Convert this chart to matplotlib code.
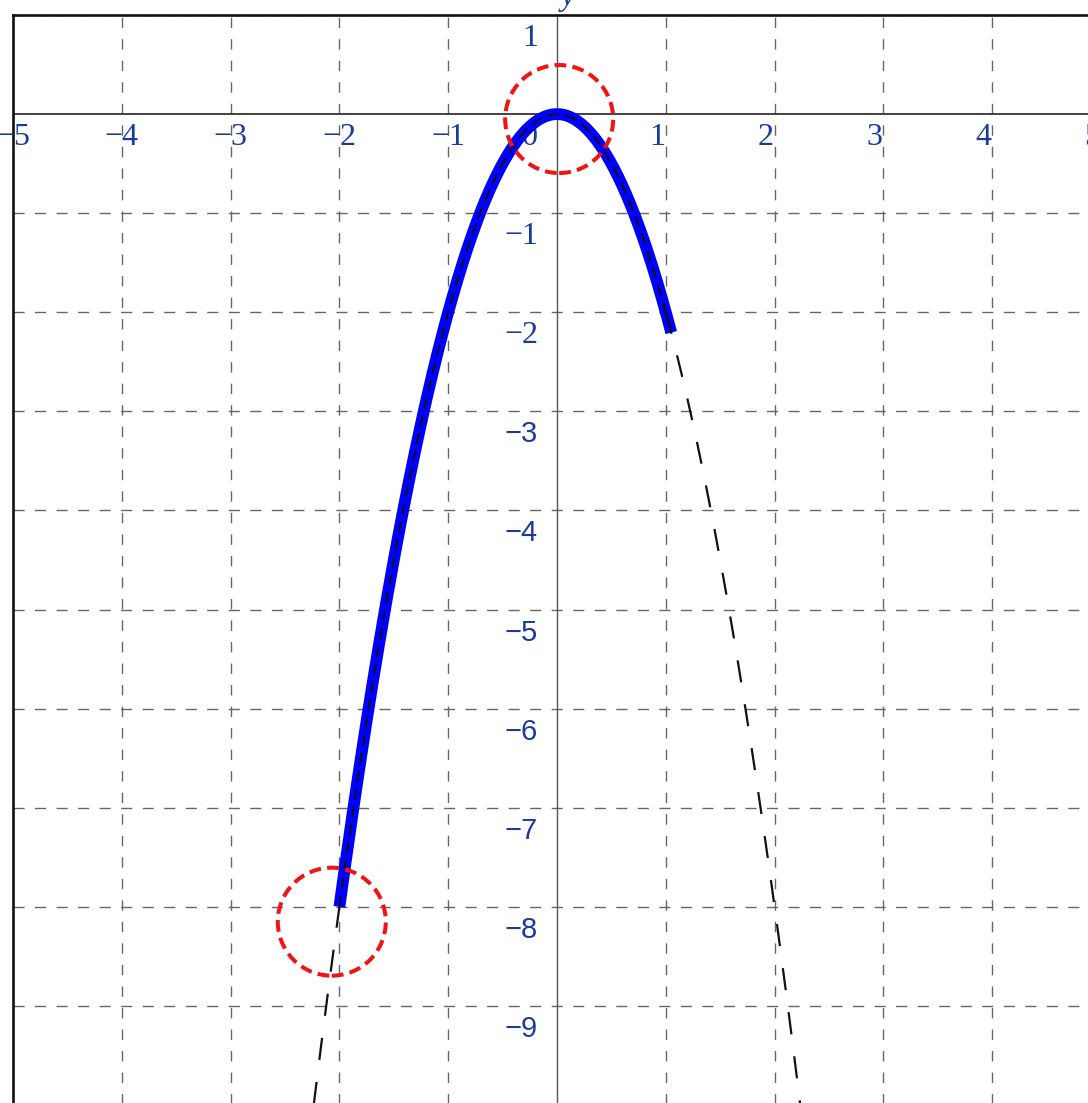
"""Graph of y = -2x^2 on a dashed grid, with the piece on [-2, 1] drawn in blue
and the two end points of interest circled in red.

Writes out.png in the working folder.
"""

import matplotlib

matplotlib.use("Agg")
import matplotlib.pyplot as plt
import numpy as np
from matplotlib.patches import Ellipse

plt.rcParams["lines.scale_dashes"] = False

# Function and domain: vertex (0, 0), through (-2, -8) and (1, -2).
COEF_A = -2.0
X_RANGE = [-5, 5]
Y_RANGE = [-10, 1]
BLUE_DOMAIN = [-2.0, 1.05]

X_TICKS = [-5, -4, -3, -2, -1, 1, 2, 3, 4, 5]
Y_TICKS = [1, -1, -2, -3, -4, -5, -6, -7, -8, -9]
SERIF_Y_TICKS = [1, -1, -2]

# Red dashed circles (centres).
CIRCLE_X = [0.02, -2.07]
CIRCLE_Y = [-0.05, -8.15]

LABEL_COLOR = "#1b3b9a"
GRID_COLOR = "#666666"
CIRCLE_RADIUS_PX = 54


def fmt(v: int) -> str:
    return str(v).replace("-", "\u2212")


def curve(x0: float, x1: float):
    xs = np.linspace(x0, x1, 400)
    return xs, COEF_A * xs ** 2


def render() -> None:
    fig = plt.figure(figsize=(10.88, 11.03), dpi=100)
    ax = fig.add_axes([13 / 1088, -2 / 1103, 1088 / 1088, 1090 / 1103])
    ax.set_xlim(*X_RANGE)
    ax.set_ylim(*Y_RANGE)
    ax.set_xticks([])
    ax.set_yticks([])
    for side in ("right", "bottom"):
        ax.spines[side].set_visible(False)
    for side in ("left", "top"):
        ax.spines[side].set_linewidth(1.9)
        ax.spines[side].set_color("#111111")

    # Dashed grid at every integer.
    for gx in range(X_RANGE[0] + 1, X_RANGE[1] + 1):
        if gx != 0:
            ax.axvline(gx, color=GRID_COLOR, lw=1.0, ls=(0, (7.5, 8.0)), zorder=1)
    for gy in range(Y_RANGE[0], Y_RANGE[1] + 1):
        if gy != 0:
            ax.axhline(gy, color=GRID_COLOR, lw=1.0, ls=(0, (8.0, 7.5)), zorder=1)

    # Coordinate axes.
    ax.axhline(0, color="#222222", lw=1.2, zorder=2)
    ax.axvline(0, color="#555555", lw=1.0, zorder=2)

    # Tick labels.
    serif = ["Liberation Serif", "DejaVu Serif"]
    sans = ["Liberation Sans", "DejaVu Sans"]
    for v in X_TICKS:
        if v < 0:
            ha, dx = "center", 0
        else:
            ha, dx = "right", -1
        ax.annotate(fmt(v), (v, 0), xytext=(dx, -31), textcoords="offset pixels",
                    ha=ha, va="baseline", fontsize=23, color=LABEL_COLOR,
                    family=serif, zorder=3, annotation_clip=False)
    for v in Y_TICKS:
        fam = serif if v in SERIF_Y_TICKS else sans
        size = 23 if v in SERIF_Y_TICKS else 21
        ax.annotate(fmt(v), (0, v), xytext=(-19, -31), textcoords="offset pixels",
                    ha="right", va="baseline", fontsize=size, color=LABEL_COLOR,
                    family=fam, zorder=3)
    ax.annotate("0", (0, 0), xytext=(-19, -31), textcoords="offset pixels",
                ha="right", va="baseline", fontsize=23, color=LABEL_COLOR,
                family=serif, zorder=3)
    ax.annotate("y", (0, Y_RANGE[1]), xytext=(4, 10), textcoords="offset pixels",
                ha="left", va="baseline", fontsize=23, color=LABEL_COLOR,
                family=serif, style="italic", annotation_clip=False)

    # Blue highlighted piece.
    bx, by = curve(*BLUE_DOMAIN)
    ax.plot(bx, by, color="#0000ff", lw=8.5, solid_capstyle="butt", zorder=4)

    # Black dashed parabola: longer dashes outside the blue part.
    lx, ly = curve(-2.35, BLUE_DOMAIN[0])
    ax.plot(lx, ly, color="#111111", lw=1.6, ls=(0, (16, 16)), zorder=5)
    mx, my = curve(BLUE_DOMAIN[0], 1.0)
    ax.plot(mx, my, color="#111111", lw=1.4, ls=(0, (8, 5)), zorder=5)
    rx, ry = curve(1.0, 2.3)
    ax.plot(rx, ry, color="#111111", lw=1.6, ls=(0, (16, 16)), zorder=5)

    # Red dashed circles, round in pixels.
    fig.canvas.draw()
    p0 = ax.transData.transform((0, 0))
    px_x = ax.transData.transform((1, 0))[0] - p0[0]
    px_y = ax.transData.transform((0, 1))[1] - p0[1]
    for cx, cy in zip(CIRCLE_X, CIRCLE_Y):
        ax.add_patch(Ellipse((cx, cy), 2 * CIRCLE_RADIUS_PX / px_x,
                             2 * CIRCLE_RADIUS_PX / px_y, fill=False,
                             edgecolor="#f01414", lw=2.9, ls=(0, (8.5, 4.5)),
                             zorder=6))

    fig.savefig("out.png", dpi=100)


if __name__ == "__main__":
    render()
